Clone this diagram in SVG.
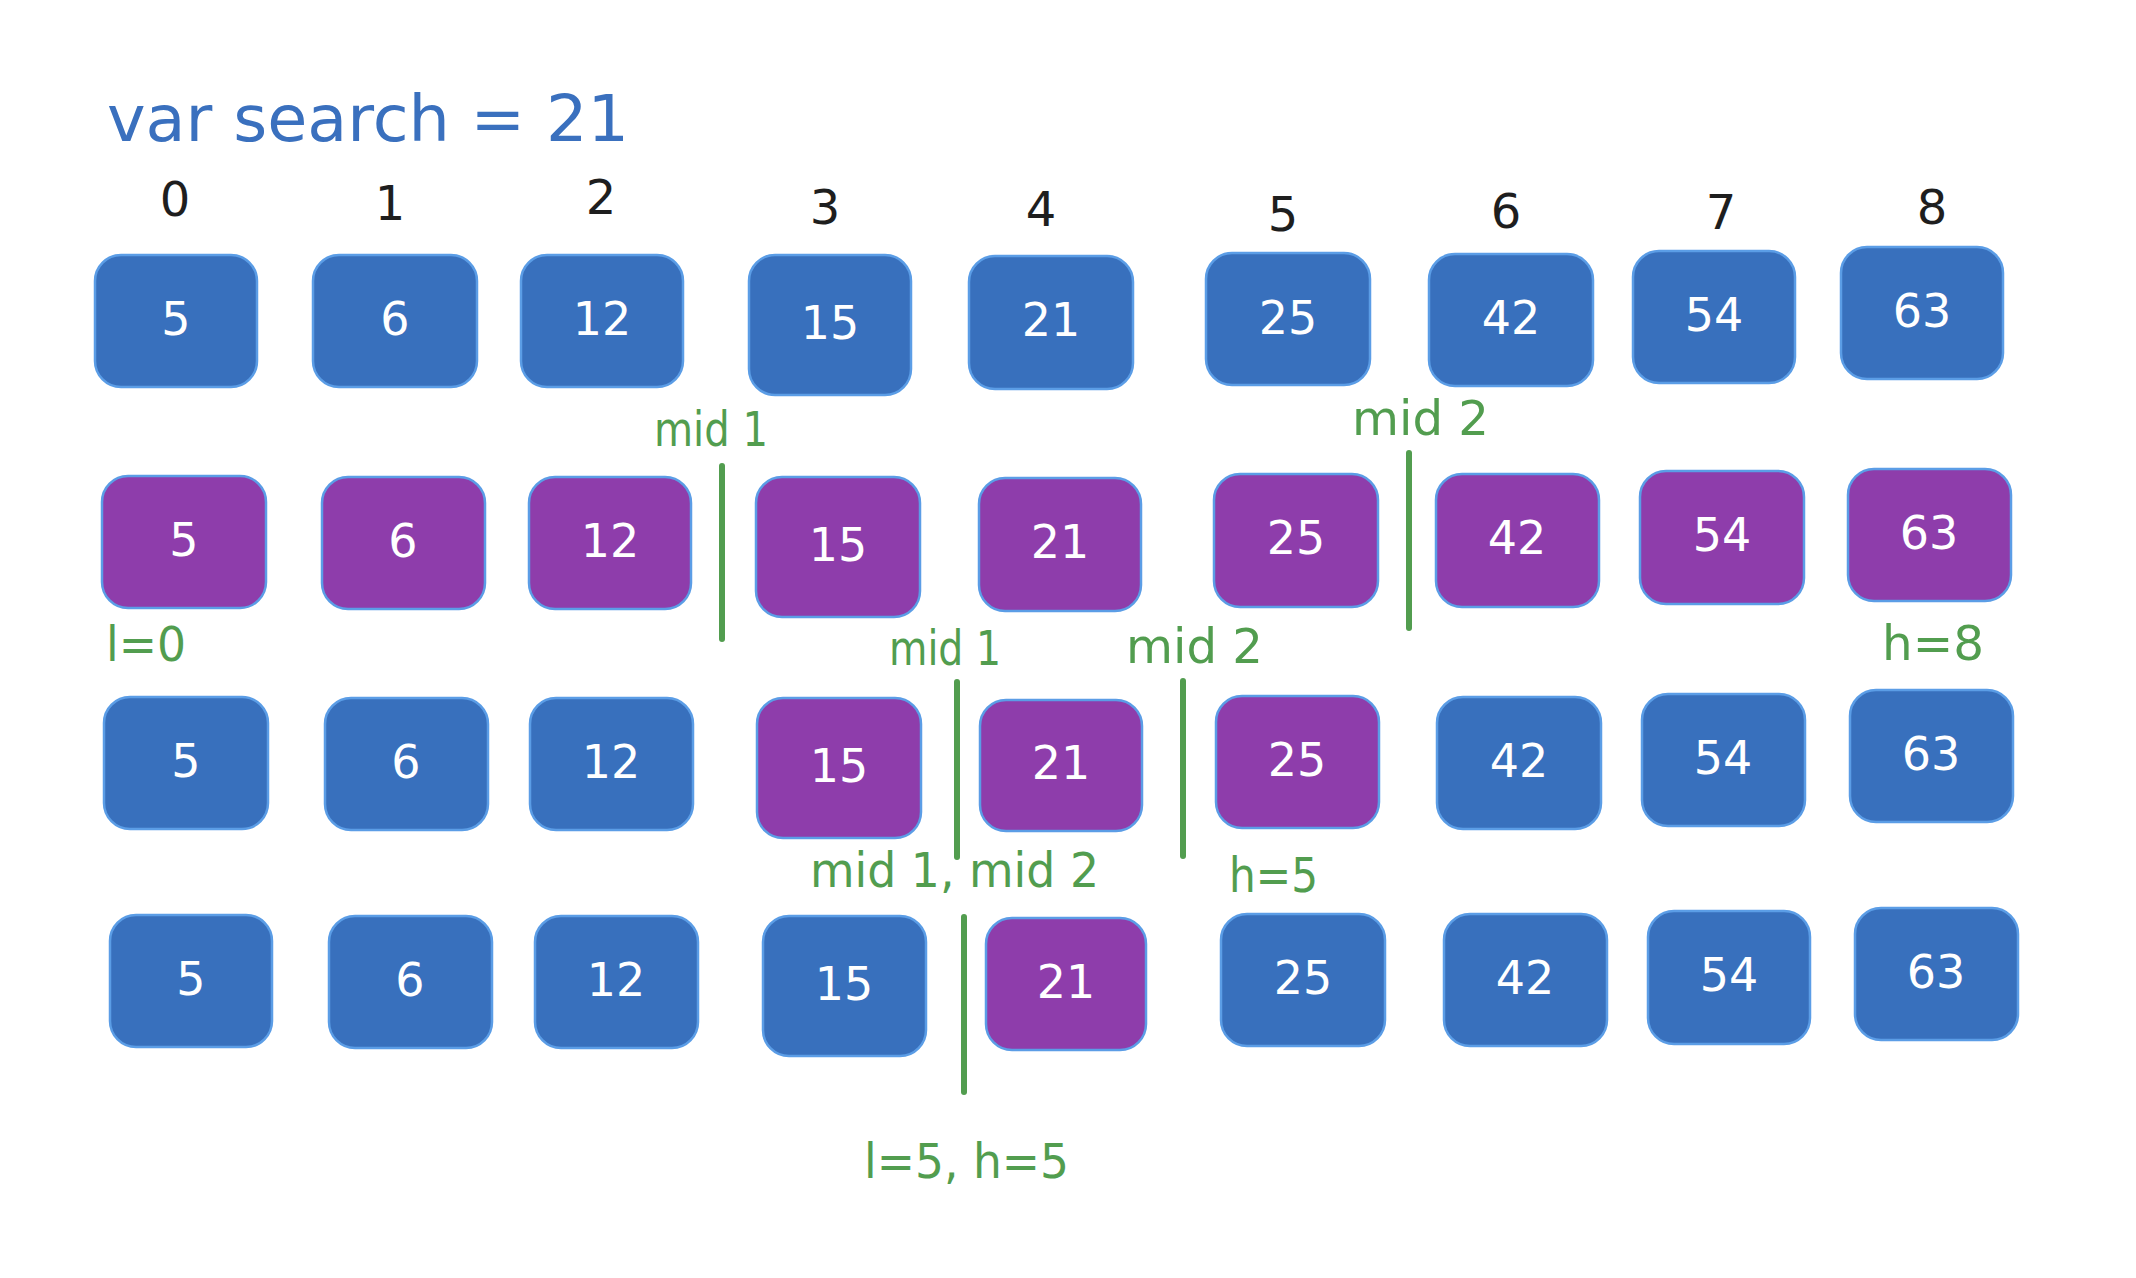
<svg xmlns="http://www.w3.org/2000/svg" width="2136" height="1278" viewBox="0 0 2136 1278">
<style>
.bg{fill:#ffffff}
.b rect{fill:#3870bd;stroke:#5b9de6;stroke-width:2.5}
.p rect{fill:#8e3dab;stroke:#5b9de6;stroke-width:2.5}
.b text,.p text{fill:#ffffff;font-family:"DejaVu Sans","Liberation Sans",sans-serif;font-size:46px;text-anchor:middle}
.idx{fill:#1e1e1e;font-family:"DejaVu Sans","Liberation Sans",sans-serif;font-size:48px;text-anchor:middle}
.lbl{fill:#529d4f;font-family:"DejaVu Sans","Liberation Sans",sans-serif;font-size:48px}
.title{fill:#3a70be;font-family:"DejaVu Sans","Liberation Sans",sans-serif;font-size:64px}
.cut{stroke:#529d4f;stroke-width:6;stroke-linecap:round;fill:none}
</style>
<rect class="bg" x="0" y="0" width="2136" height="1278"/>
<g id="title"><text class="title" x="107" y="141" textLength="522" lengthAdjust="spacingAndGlyphs">var search = 21</text></g>
<g id="indices">
<text class="idx" x="175" y="216">0</text>
<text class="idx" x="390" y="220">1</text>
<text class="idx" x="601" y="214">2</text>
<text class="idx" x="825" y="224">3</text>
<text class="idx" x="1041" y="226">4</text>
<text class="idx" x="1283" y="231">5</text>
<text class="idx" x="1506" y="228">6</text>
<text class="idx" x="1721" y="229">7</text>
<text class="idx" x="1932" y="224">8</text>
</g>
<g id="row1">
<g id="r1c0" class="b"><rect x="95" y="255" width="162" height="132" rx="26"/><text x="176" y="335">5</text></g>
<g id="r1c1" class="b"><rect x="313" y="255" width="164" height="132" rx="26"/><text x="395" y="335">6</text></g>
<g id="r1c2" class="b"><rect x="521" y="255" width="162" height="132" rx="26"/><text x="602" y="335">12</text></g>
<g id="r1c3" class="b"><rect x="749" y="255" width="162" height="140" rx="26"/><text x="830" y="339">15</text></g>
<g id="r1c4" class="b"><rect x="969" y="256" width="164" height="133" rx="26"/><text x="1051" y="336">21</text></g>
<g id="r1c5" class="b"><rect x="1206" y="253" width="164" height="132" rx="26"/><text x="1288" y="334">25</text></g>
<g id="r1c6" class="b"><rect x="1429" y="254" width="164" height="132" rx="26"/><text x="1511" y="334">42</text></g>
<g id="r1c7" class="b"><rect x="1633" y="251" width="162" height="132" rx="26"/><text x="1714" y="331">54</text></g>
<g id="r1c8" class="b"><rect x="1841" y="247" width="162" height="132" rx="26"/><text x="1922" y="327">63</text></g>
</g>
<g id="row2">
<g id="r2c0" class="p"><rect x="102" y="476" width="164" height="132" rx="26"/><text x="184" y="556">5</text></g>
<g id="r2c1" class="p"><rect x="322" y="477" width="163" height="132" rx="26"/><text x="403" y="557">6</text></g>
<g id="r2c2" class="p"><rect x="529" y="477" width="162" height="132" rx="26"/><text x="610" y="557">12</text></g>
<g id="r2c3" class="p"><rect x="756" y="477" width="164" height="140" rx="26"/><text x="838" y="561">15</text></g>
<g id="r2c4" class="p"><rect x="979" y="478" width="162" height="133" rx="26"/><text x="1060" y="558">21</text></g>
<g id="r2c5" class="p"><rect x="1214" y="474" width="164" height="133" rx="26"/><text x="1296" y="554">25</text></g>
<g id="r2c6" class="p"><rect x="1436" y="474" width="163" height="133" rx="26"/><text x="1517" y="554">42</text></g>
<g id="r2c7" class="p"><rect x="1640" y="471" width="164" height="133" rx="26"/><text x="1722" y="551">54</text></g>
<g id="r2c8" class="p"><rect x="1848" y="469" width="163" height="132" rx="26"/><text x="1929" y="549">63</text></g>
</g>
<g id="row3">
<g id="r3c0" class="b"><rect x="104" y="697" width="164" height="132" rx="26"/><text x="186" y="777">5</text></g>
<g id="r3c1" class="b"><rect x="325" y="698" width="163" height="132" rx="26"/><text x="406" y="778">6</text></g>
<g id="r3c2" class="b"><rect x="530" y="698" width="163" height="132" rx="26"/><text x="611" y="778">12</text></g>
<g id="r3c3" class="p"><rect x="757" y="698" width="164" height="140" rx="26"/><text x="839" y="782">15</text></g>
<g id="r3c4" class="p"><rect x="980" y="700" width="162" height="131" rx="26"/><text x="1061" y="779">21</text></g>
<g id="r3c5" class="p"><rect x="1216" y="696" width="163" height="132" rx="26"/><text x="1297" y="776">25</text></g>
<g id="r3c6" class="b"><rect x="1437" y="697" width="164" height="132" rx="26"/><text x="1519" y="777">42</text></g>
<g id="r3c7" class="b"><rect x="1642" y="694" width="163" height="132" rx="26"/><text x="1723" y="774">54</text></g>
<g id="r3c8" class="b"><rect x="1850" y="690" width="163" height="132" rx="26"/><text x="1931" y="770">63</text></g>
</g>
<g id="row4">
<g id="r4c0" class="b"><rect x="110" y="915" width="162" height="132" rx="26"/><text x="191" y="995">5</text></g>
<g id="r4c1" class="b"><rect x="329" y="916" width="163" height="132" rx="26"/><text x="410" y="996">6</text></g>
<g id="r4c2" class="b"><rect x="535" y="916" width="163" height="132" rx="26"/><text x="616" y="996">12</text></g>
<g id="r4c3" class="b"><rect x="763" y="916" width="163" height="140" rx="26"/><text x="844" y="1000">15</text></g>
<g id="r4c4" class="p"><rect x="986" y="918" width="160" height="132" rx="26"/><text x="1066" y="998">21</text></g>
<g id="r4c5" class="b"><rect x="1221" y="914" width="164" height="132" rx="26"/><text x="1303" y="994">25</text></g>
<g id="r4c6" class="b"><rect x="1444" y="914" width="163" height="132" rx="26"/><text x="1525" y="994">42</text></g>
<g id="r4c7" class="b"><rect x="1648" y="911" width="162" height="133" rx="26"/><text x="1729" y="991">54</text></g>
<g id="r4c8" class="b"><rect x="1855" y="908" width="163" height="132" rx="26"/><text x="1936" y="988">63</text></g>
</g>
<g id="connectors">
<line class="cut" x1="722" y1="466" x2="722" y2="639"/>
<line class="cut" x1="1409" y1="453" x2="1409" y2="628"/>
<line class="cut" x1="957" y1="682" x2="957" y2="857"/>
<line class="cut" x1="1183" y1="681" x2="1183" y2="856"/>
<line class="cut" x1="964" y1="917" x2="964" y2="1092"/>
</g>
<g id="labels">
<g id="lbl-mid1-a"><text class="lbl" x="654" y="446" textLength="114" lengthAdjust="spacingAndGlyphs">mid 1</text></g>
<g id="lbl-mid2-a"><text class="lbl" x="1352" y="435" textLength="137" lengthAdjust="spacingAndGlyphs">mid 2</text></g>
<g id="lbl-l0"><text class="lbl" x="106" y="661" textLength="80" lengthAdjust="spacingAndGlyphs">l=0</text></g>
<g id="lbl-mid1-b"><text class="lbl" x="889" y="665" textLength="112" lengthAdjust="spacingAndGlyphs">mid 1</text></g>
<g id="lbl-mid2-b"><text class="lbl" x="1126" y="663" textLength="137" lengthAdjust="spacingAndGlyphs">mid 2</text></g>
<g id="lbl-h8"><text class="lbl" x="1882" y="660" textLength="102" lengthAdjust="spacingAndGlyphs">h=8</text></g>
<g id="lbl-mid12"><text class="lbl" x="810" y="887" textLength="289" lengthAdjust="spacingAndGlyphs">mid 1, mid 2</text></g>
<g id="lbl-h5"><text class="lbl" x="1229" y="892" textLength="89" lengthAdjust="spacingAndGlyphs">h=5</text></g>
<g id="lbl-l5h5"><text class="lbl" x="864" y="1178" textLength="205" lengthAdjust="spacingAndGlyphs">l=5, h=5</text></g>
</g>
</svg>
